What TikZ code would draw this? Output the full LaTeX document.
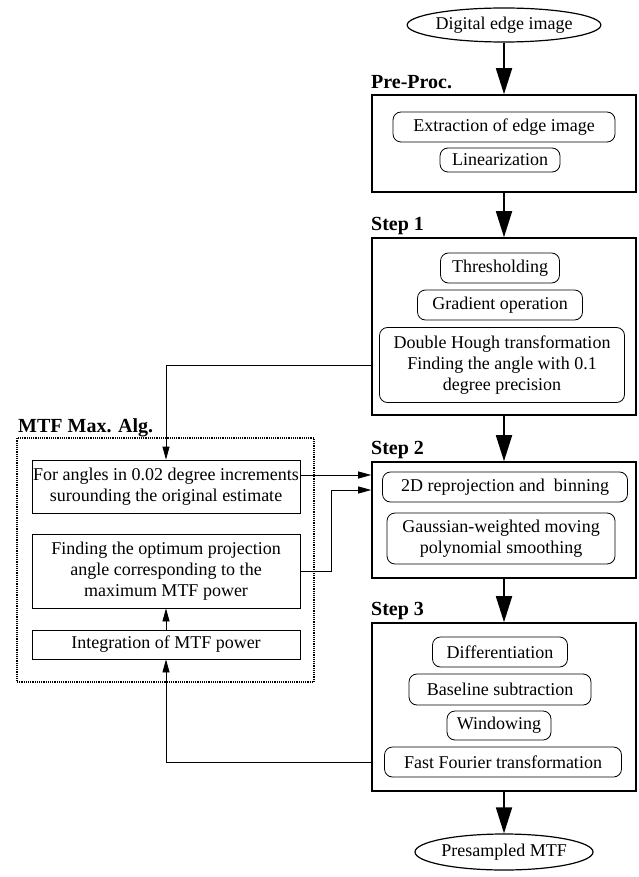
\documentclass[tikz,border=0pt]{standalone}
\usepackage{fontspec}
\setmainfont{Liberation Serif}
\usetikzlibrary{shapes.geometric, arrows.meta, positioning, calc}

\begin{document}
\begin{tikzpicture}[x=1pt, y=-1pt,
  font=\fontsize{18}{21}\selectfont,
  stagebox/.style={draw, line width=1.6pt, minimum width=264pt, inner sep=0pt},
  opbox/.style={draw, rounded corners=8pt, line width=0.8pt, align=center, inner sep=0pt, minimum height=30pt},
  algbox/.style={draw, line width=0.8pt, align=center, inner sep=0pt, minimum width=268pt},
  termnode/.style={draw, ellipse, line width=1.2pt, inner sep=0pt},
  steplabel/.style={anchor=base west, inner sep=0pt, font=\fontsize{20}{24}\selectfont\bfseries},
  flowarrow/.style={-{Triangle[length=26pt, width=16pt]}, line width=1.8pt},
  linkarrow/.style={-{Triangle[length=13pt, width=7pt]}, line width=0.8pt}]
  \useasboundingbox (0,0) rectangle (638,877);

  % Input
  \node[termnode, minimum width=173pt, minimum height=34pt] (din) at (504,25) {Digital edge image};

  % Pre-processing
  \node[steplabel] (prelbl) at (371,89) {Pre-Proc.};
  \node[stagebox, minimum height=97pt] (pre) at (504,143.5) {};
  \node[opbox, minimum width=222pt] (ext) at (504,127) {Extraction of edge image};
  \node[opbox, minimum width=120pt, minimum height=24pt] (lin) at (500,160) {Linearization};

  % Step 1
  \node[steplabel] (s1lbl) at (371,231) {Step 1};
  \node[stagebox, minimum height=177pt] (s1) at (504,326.5) {};
  \node[opbox, minimum width=119pt] (thr) at (500,268) {Thresholding};
  \node[opbox, minimum width=165pt] (grad) at (500,305) {Gradient operation};
  \node[opbox, minimum width=245pt, minimum height=75pt] (hough) at (502,365) {Double Hough transformation\\Finding the angle with 0.1\\degree precision};

  % Step 2
  \node[steplabel] (s2lbl) at (371,454) {Step 2};
  \node[stagebox, minimum height=116pt] (s2) at (504,520) {};
  \node[opbox, minimum width=245pt] (repro) at (505,487) {2D reprojection and \ binning};
  \node[opbox, minimum width=228pt, minimum height=51pt] (gauss) at (501,538.5) {Gaussian-weighted moving\\polynomial smoothing};

  % Step 3
  \node[steplabel] (s3lbl) at (371,615) {Step 3};
  \node[stagebox, minimum height=168pt] (s3) at (504,707) {};
  \node[opbox, minimum width=135pt] (diff) at (500,652) {Differentiation};
  \node[opbox, minimum width=182pt, minimum height=31pt] (base) at (500,689.5) {Baseline subtraction};
  \node[opbox, minimum width=104pt, minimum height=29pt] (win) at (499,725.5) {Windowing};
  \node[opbox, minimum width=237pt] (fft) at (503,762) {Fast Fourier transformation};

  % Output
  \node[termnode, minimum width=178pt, minimum height=36pt] (dout) at (504,852) {Presampled MTF};

  % MTF maximization loop
  \node[steplabel] (mtflbl) at (18,432) {MTF Max. Alg.};
  \node[draw, densely dotted, line width=1.2pt, minimum width=297pt, minimum height=244pt] (mtf) at (165.5,560) {};
  \node[algbox, minimum height=53pt] (ang) at (166,486.5) {For angles in 0.02 degree increments\\surounding the original estimate};
  \node[algbox, minimum height=74pt] (opt) at (166,571) {Finding the optimum projection\\angle corresponding to the\\maximum MTF power};
  \node[algbox, minimum height=29pt] (integ) at (166,644.5) {Integration of MTF power};

  % Main flow
  \draw[flowarrow] (din) -- (pre);
  \draw[flowarrow] (pre) -- (s1);
  \draw[flowarrow] (s1) -- (s2);
  \draw[flowarrow] (s2) -- (s3);
  \draw[flowarrow] (s3) -- (dout);

  % Links to and from the loop
  \draw[linkarrow] (s1.west |- hough) -| (ang.north);
  \draw[linkarrow] ([yshift=11.5pt]ang.east) -- ([yshift=11.5pt]ang.east -| s2.west);
  \draw[linkarrow] (opt.east) -- ++(31,0) |- ([yshift=30pt]s2.west);
  \draw[linkarrow] (integ) -- (opt);
  \draw[linkarrow] (s3.west |- fft) -| (integ.south);
\end{tikzpicture}
\end{document}
